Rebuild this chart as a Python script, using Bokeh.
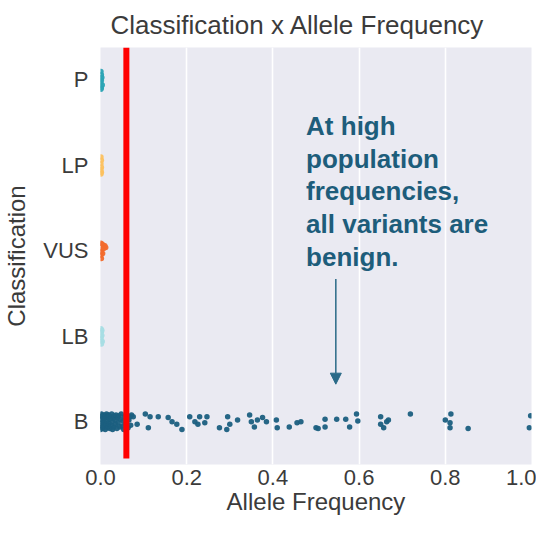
import numpy as np
from bokeh.plotting import figure
from bokeh.models import FixedTicker, Arrow, NormalHead
from bokeh.core.properties import value
from bokeh.embed import file_html
from bokeh.resources import INLINE

# ---- data ----
categories = ["B", "LB", "VUS", "LP", "P"]          # bottom -> top
cat_colors = ["#1b5f7f", "#a6dde4", "#f26a2c", "#fcc15f", "#2aa3b4"]

# Benign: allele frequency and strip jitter
b_af = [0.000, 0.000, 0.000, 0.000, 0.001, 0.001, 0.002, 0.002, 0.003, 0.003,
        0.004, 0.005, 0.005, 0.006, 0.007, 0.008, 0.009, 0.010, 0.011, 0.012,
        0.013, 0.014, 0.015, 0.016, 0.017, 0.018, 0.019, 0.020, 0.021, 0.022,
        0.024, 0.025, 0.026, 0.027, 0.028, 0.030, 0.031, 0.032, 0.034, 0.035,
        0.036, 0.038, 0.040, 0.041, 0.043, 0.045, 0.046, 0.048, 0.050, 0.052,
        0.054, 0.056, 0.058, 0.060, 0.062, 0.064, 0.066, 0.068, 0.070, 0.072,
        0.076, 0.085, 0.104, 0.115, 0.111, 0.134, 0.157, 0.166, 0.177, 0.189,
        0.207, 0.219, 0.226, 0.230, 0.247, 0.242, 0.276, 0.293, 0.295, 0.300,
        0.318, 0.346, 0.350, 0.357, 0.364, 0.376, 0.385, 0.408, 0.410, 0.438,
        0.456, 0.465, 0.500, 0.505, 0.521, 0.521, 0.548, 0.569, 0.578, 0.594,
        0.597, 0.650, 0.650, 0.657, 0.664, 0.668, 0.719, 0.800, 0.813, 0.811,
        0.811, 0.853, 0.995, 0.998]
b_jit = [0.08, -0.05, 0.02, -0.09, 0.06, -0.02, 0.09, -0.07, 0.03, -0.04,
         0.07, -0.08, 0.00, 0.05, -0.06, 0.08, -0.01, 0.04, -0.09, 0.07,
         -0.03, 0.09, 0.01, -0.07, 0.05, -0.05, 0.08, -0.02, 0.03, -0.08,
         0.06, -0.04, 0.09, 0.00, -0.09, 0.04, -0.06, 0.07, 0.02, -0.03,
         0.08, -0.08, 0.05, -0.01, 0.07, -0.06, 0.03, 0.09, -0.05, 0.01,
         -0.09, 0.06, -0.03, 0.08, 0.04, -0.07, 0.02, 0.06, -0.04, 0.08,
         0.06, -0.03, 0.09, 0.06, -0.07, 0.06, 0.05, 0.00, -0.03, -0.09,
         0.06, 0.00, -0.03, 0.06, 0.06, -0.01, -0.07, -0.09, 0.06, -0.03,
         0.02, 0.08, 0.00, -0.06, 0.02, 0.05, 0.00, 0.02, -0.07, -0.06,
         -0.01, 0.00, -0.07, -0.08, 0.03, -0.06, 0.03, 0.03, -0.06, 0.09,
         0.01, 0.06, -0.03, -0.07, 0.00, 0.02, 0.09, 0.02, 0.09, -0.01,
         -0.07, -0.08, -0.07, 0.07]

# other classes (all near zero frequency)
lb_af = [0.001, 0.002, 0.003, 0.001, 0.004, 0.002, 0.003, 0.001]
lb_jit = [0.09, 0.05, 0.01, -0.03, -0.06, -0.09, 0.07, -0.01]
vus_af = [0.001, 0.003, 0.006, 0.010, 0.012, 0.004, 0.002, 0.008, 0.001, 0.005, 0.002]
vus_jit = [0.09, 0.08, 0.07, 0.06, 0.04, 0.02, -0.01, 0.03, -0.05, -0.03, -0.09]
lp_af = [0.001, 0.002, 0.001, 0.002, 0.001, 0.002, 0.001]
lp_jit = [0.10, 0.06, 0.02, -0.02, -0.05, -0.08, -0.10]
p_af = [0.001, 0.002, 0.003, 0.002, 0.001, 0.004, 0.002, 0.001]
p_jit = [0.10, 0.06, 0.03, 0.00, -0.03, -0.06, -0.09, -0.11]

highlight_af = 0.06
arrow_af = 0.546
arrow_y = [1.67, 0.44]
note_af = 0.477
note_y = 3.64
note_text = "At high\npopulation\nfrequencies,\nall variants are\nbenign."

title = "Classification x Allele Frequency"
x_label = "Allele Frequency"
y_label = "Classification"
x_ticks = [0.0, 0.2, 0.4, 0.6, 0.8, 1.0]

# ---- figure ----
FONT = "Liberation Sans"
TXT = "#3b3b3b"
p = figure(width=536, height=517, output_backend="svg", toolbar_location=None,
           x_range=(0, 1.0), y_range=(-0.5, 4.38),
           min_border_left=96, min_border_right=5, min_border_top=46, min_border_bottom=0,
           background_fill_color="#eaeaf2", border_fill_color="white")
p.outline_line_color = None
p.title.text = title
p.title.text_font = FONT
p.title.text_font_size = "26px"
p.title.text_font_style = "normal"
p.title.text_color = TXT
p.title.align = "left"
p.title.offset = 10
p.title.standoff = 15

p.xgrid.grid_line_color = "white"
p.xgrid.grid_line_width = 1.6
p.ygrid.grid_line_color = None
p.xgrid.ticker = FixedTicker(ticks=x_ticks)

for ax in (p.xaxis[0], p.yaxis[0]):
    ax.axis_line_color = None
    ax.major_tick_line_color = None
    ax.minor_tick_line_color = None
    ax.major_tick_in = 0
    ax.major_tick_out = 0
    ax.major_label_text_font = FONT
    ax.major_label_text_font_size = "22px"
    ax.major_label_text_color = TXT
    ax.axis_label_text_font = FONT
    ax.axis_label_text_font_size = "24px"
    ax.axis_label_text_font_style = "normal"
    ax.axis_label_text_color = TXT

p.xaxis.ticker = FixedTicker(ticks=x_ticks)
p.xaxis.major_label_overrides = {t: f"{t:.1f}" for t in x_ticks}
p.xaxis.axis_label = x_label
p.xaxis.major_label_standoff = 5
p.xaxis.axis_label_standoff = 0

p.yaxis.ticker = FixedTicker(ticks=list(range(len(categories))))
p.yaxis.major_label_overrides = {i: c for i, c in enumerate(categories)}
p.yaxis.axis_label = y_label
p.yaxis.major_label_standoff = 12
p.yaxis.axis_label_standoff = 10

series = [(b_af, b_jit), (lb_af, lb_jit), (vus_af, vus_jit), (lp_af, lp_jit), (p_af, p_jit)]
for i, ((af, jit), col) in enumerate(zip(series, cat_colors)):
    ys = [i + j for j in jit]
    p.scatter(x=af, y=ys, size=5.5, fill_color=col, line_color=None, fill_alpha=0.95)

# red highlight line
p.segment(x0=[highlight_af], x1=[highlight_af], y0=[-0.43], y1=[4.38],
          line_color="#ff0000", line_width=6)

# annotation
p.text(x=[note_af], y=[note_y], text=[note_text], text_font=value(FONT),
       text_font_size="26px", text_font_style="bold", text_color="#1d5d7b",
       text_line_height=1.095, text_baseline="top", text_align="left")
p.add_layout(Arrow(end=NormalHead(size=11, fill_color="#2a6a88", line_color="#2a6a88"),
                   x_start=arrow_af, y_start=arrow_y[0], x_end=arrow_af, y_end=arrow_y[1],
                   line_color="#2a6a88", line_width=1.5))

open("out.html", "w").write(file_html(p, INLINE))
